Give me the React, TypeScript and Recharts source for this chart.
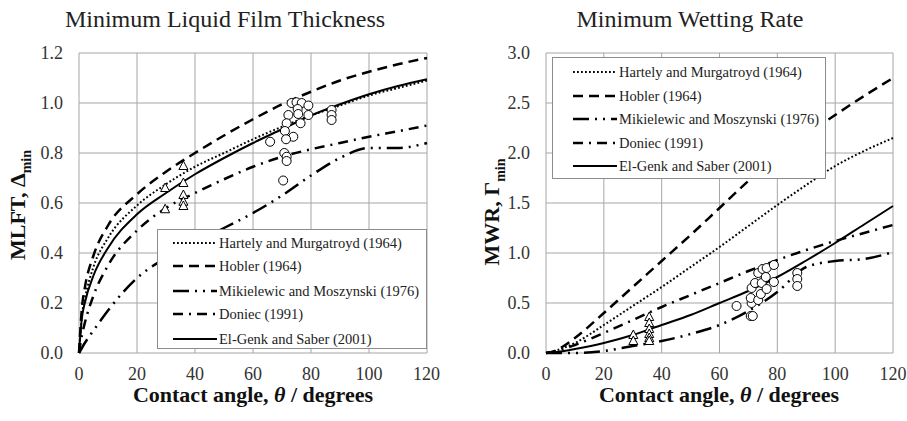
import React from "react";
import { CartesianGrid, ComposedChart, Line, Scatter, XAxis, YAxis } from "recharts";

// contact angle grid shared by every correlation curve (degrees)
const theta = [0, 1, 2, 5, 10, 20, 30, 40, 50, 60, 70, 80, 90, 100, 110, 120];

// Minimum liquid film thickness, Δmin
const mlftHartely = [0, 0.15, 0.215, 0.345, 0.46, 0.59, 0.675, 0.745, 0.8, 0.855, 0.905, 0.95, 0.99, 1.03, 1.06, 1.09];
const mlftHobler = [0, 0.18, 0.26, 0.39, 0.51, 0.635, 0.725, 0.8, 0.87, 0.935, 0.995, 1.045, 1.09, 1.125, 1.155, 1.18];
const mlftMikielewic = [0, 0.02, 0.04, 0.09, 0.17, 0.3, 0.38, 0.44, 0.5, 0.56, 0.63, 0.71, 0.78, 0.82, 0.82, 0.84];
const mlftDoniec = [0, 0.07, 0.12, 0.23, 0.35, 0.49, 0.58, 0.64, 0.695, 0.745, 0.785, 0.815, 0.84, 0.865, 0.887, 0.91];
const mlftElGenk = [0, 0.14, 0.2, 0.31, 0.42, 0.555, 0.64, 0.715, 0.78, 0.84, 0.895, 0.95, 0.995, 1.035, 1.068, 1.095];

// Minimum wetting rate, Γmin
const mwrHartely = [0, 0.005, 0.01, 0.04, 0.1, 0.28, 0.47, 0.66, 0.86, 1.06, 1.27, 1.48, 1.68, 1.87, 2.02, 2.15];
const mwrHobler = [0, 0.005, 0.01, 0.05, 0.15, 0.4, 0.66, 0.92, 1.18, 1.45, 1.72, 1.96, 2.18, 2.38, 2.57, 2.75];
const mwrMikielewic = [0, 0, 0, 0, 0, 0.02, 0.07, 0.12, 0.19, 0.28, 0.42, 0.61, 0.86, 0.92, 0.94, 1.01];
const mwrDoniec = [0, 0.005, 0.01, 0.03, 0.08, 0.2, 0.33, 0.46, 0.58, 0.7, 0.82, 0.93, 1.03, 1.12, 1.2, 1.28];
const mwrElGenk = [0, 0.002, 0.005, 0.015, 0.04, 0.1, 0.18, 0.28, 0.38, 0.5, 0.62, 0.76, 0.925, 1.1, 1.285, 1.47];

// experimental points: [theta, value]
const mlftCircles = [
  [73.3, 1.0], [75.0, 1.003], [76.8, 1.0], [79.1, 0.99], [75.4, 0.976], [72.2, 0.952], [75.6, 0.956],
  [79.1, 0.952], [71.6, 0.919], [76.4, 0.919], [71.0, 0.888], [73.9, 0.865], [71.4, 0.855], [65.9, 0.845],
  [70.8, 0.8], [71.6, 0.785], [71.6, 0.768], [70.4, 0.69], [87.1, 0.972], [87.1, 0.952], [87.1, 0.932],
];
const mlftTriangles = [[29.7, 0.66], [29.7, 0.575], [36, 0.748], [36, 0.68], [36, 0.632], [36, 0.605], [36, 0.588]];

const mwrCircles = [
  [65.9, 0.47], [70.8, 0.37], [71.5, 0.37], [71.1, 0.5], [70.8, 0.55], [73.4, 0.53], [71.1, 0.65], [74.3, 0.59],
  [72.3, 0.7], [74.6, 0.7], [76.3, 0.64], [73.4, 0.8], [74.9, 0.84], [76.3, 0.85], [76.0, 0.76], [78.8, 0.71],
  [78.8, 0.88], [86.9, 0.8], [86.9, 0.74], [86.9, 0.67],
];
const mwrTriangles = [[30.2, 0.18], [30.2, 0.12], [35.7, 0.36], [35.7, 0.3], [35.7, 0.24], [35.7, 0.19], [35.7, 0.15], [35.7, 0.12]];

const xTicks = [0, 20, 40, 60, 80, 100, 120];
const mlftTicks = [0, 0.2, 0.4, 0.6, 0.8, 1.0, 1.2];
const mwrTicks = [0, 0.5, 1.0, 1.5, 2.0, 2.5, 3.0];

const seriesNames = [
  "Hartely and Murgatroyd (1964)",
  "Hobler (1964)",
  "Mikielewic and Moszynski (1976)",
  "Doniec (1991)",
  "El-Genk and Saber (2001)",
];

const FONT = "Liberation Serif";
const GRID = "#a6a6a6";
const styles = [
  { dash: "1.8 2.2", width: 2 },
  { dash: "10 6", width: 2.5 },
  { dash: "16 6 2 6 2 6", width: 2.5 },
  { dash: "10 6 2 6", width: 2.5 },
  { dash: undefined, width: 2 },
];

const toRows = (cols: number[][]) =>
  theta.map((t, i) => ({ theta: t, s0: cols[0][i], s1: cols[1][i], s2: cols[2][i], s3: cols[3][i], s4: cols[4][i] }));
const toPoints = (pts: number[][]) => pts.map(([t, v]) => ({ theta: t, v }));

const CircleMark = (p: any) => <circle cx={p.cx} cy={p.cy} r={4.5} fill="#fff" stroke="#000" strokeWidth={1} />;
const TriangleMark = (p: any) => (
  <polygon
    points={`${p.cx},${p.cy - 5} ${p.cx - 4.5},${p.cy + 3.5} ${p.cx + 4.5},${p.cy + 3.5}`}
    fill="#fff"
    stroke="#000"
    strokeWidth={1}
  />
);

function LegendBox({ left, top, width, height, rowTops, sampleLeft }: any) {
  return (
    <div
      style={{
        position: "absolute", left, top, width, height, background: "#fff",
        border: "1px solid #8c8c8c", boxSizing: "border-box", fontFamily: FONT, fontSize: 14.5, color: "#222",
      }}
    >
      {seriesNames.map((name, i) => (
        <div key={name} style={{ position: "absolute", left: sampleLeft, top: rowTops[i] - 10, height: 20, display: "flex", alignItems: "center", whiteSpace: "nowrap" }}>
          <svg width={44} height={6} style={{ marginRight: 2 }}>
            <line x1={0} y1={3} x2={44} y2={3} stroke="#000" strokeWidth={styles[i].width} strokeDasharray={styles[i].dash} />
          </svg>
          {name}
        </div>
      ))}
    </div>
  );
}

function Panel({ left, width, yAxisWidth, rightMargin, rows, circles, triangles, yTicks, yMax }: any) {
  return (
    <div style={{ position: "absolute", left, top: 0 }}>
      <ComposedChart width={width} height={421} data={rows} margin={{ top: 53, right: rightMargin, bottom: 38, left: 0 }}>
        <CartesianGrid stroke={GRID} strokeWidth={1} />
        <XAxis
          dataKey="theta" type="number" domain={[0, 120]} ticks={xTicks} axisLine={false} tickLine={false}
          tickSize={0} tickMargin={14} height={30} tick={{ fill: "#333", fontSize: 18, fontFamily: FONT }}
        />
        <YAxis
          type="number" domain={[0, yMax]} ticks={yTicks} axisLine={false} tickLine={false} tickSize={0}
          tickMargin={16} width={yAxisWidth} tickFormatter={(v: number) => v.toFixed(1)}
          tick={{ fill: "#333", fontSize: 18, fontFamily: FONT }}
        />
        {[0, 1, 2, 3, 4].map((i) => (
          <Line
            key={i} dataKey={`s${i}`} type="monotone" stroke="#000" strokeWidth={styles[i].width}
            strokeDasharray={styles[i].dash} dot={false} activeDot={false} isAnimationActive={false}
          />
        ))}
        <Scatter data={toPoints(circles)} dataKey="v" shape={CircleMark} isAnimationActive={false} />
        <Scatter data={toPoints(triangles)} dataKey="v" shape={TriangleMark} isAnimationActive={false} />
      </ComposedChart>
    </div>
  );
}

const centered = (x: number, y: number, extra: React.CSSProperties = {}): React.CSSProperties => ({
  position: "absolute", left: x, top: y, transform: "translate(-50%, -50%)", whiteSpace: "nowrap",
  fontFamily: FONT, color: "#222", ...extra,
});

const axisTitle: React.CSSProperties = { fontSize: 22, fontWeight: "bold", color: "#111" };
const rotated: React.CSSProperties = { ...axisTitle, transform: "translate(-50%, -50%) rotate(-90deg)" };

export default function App() {
  return (
    <div style={{ position: "absolute", left: 0, top: 0, width: 907, height: 421, background: "#fff", overflow: "hidden" }}>
      <Panel
        left={0} width={440} yAxisWidth={79} rightMargin={13}
        rows={toRows([mlftHartely, mlftHobler, mlftMikielewic, mlftDoniec, mlftElGenk])}
        circles={mlftCircles} triangles={mlftTriangles} yTicks={mlftTicks} yMax={1.2}
      />
      <Panel
        left={455} width={452} yAxisWidth={91} rightMargin={14}
        rows={toRows([mwrHartely, mwrHobler, mwrMikielewic, mwrDoniec, mwrElGenk])}
        circles={mwrCircles} triangles={mwrTriangles} yTicks={mwrTicks} yMax={3}
      />
      <LegendBox left={157} top={229} width={270} height={120} rowTops={[13, 36, 61, 84, 109]} sampleLeft={15} />
      <LegendBox left={552} top={57} width={274} height={122} rowTops={[14, 38, 61, 85, 108]} sampleLeft={20} />

      <div style={centered(225, 19, { fontSize: 24 })}>Minimum Liquid Film Thickness</div>
      <div style={centered(690, 19, { fontSize: 24 })}>Minimum Wetting Rate</div>

      <div style={centered(253, 395, axisTitle)}>
        Contact angle, <i>θ</i> / degrees
      </div>
      <div style={centered(719, 395, axisTitle)}>
        Contact angle, <i>θ</i> / degrees
      </div>

      <div style={centered(20, 205, rotated)}>
        MLFT, Δ<sub style={{ fontSize: 14 }}>min</sub>
      </div>
      <div style={centered(494, 212, rotated)}>
        MWR, Γ<sub style={{ fontSize: 14 }}>min</sub>
      </div>
    </div>
  );
}
